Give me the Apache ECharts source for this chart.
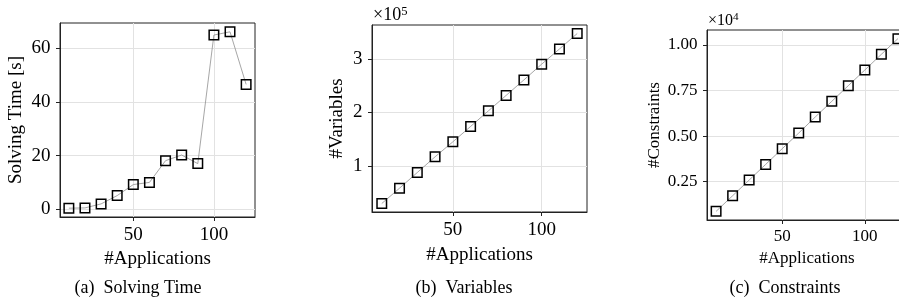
<!DOCTYPE html>
<html>
<head>
<meta charset="utf-8">
<script src="https://cdn.jsdelivr.net/npm/echarts@6/dist/echarts.min.js"></script>
<style>
  html, body { margin: 0; padding: 0; background: #fff; }
  #chart { width: 899px; height: 308px; }
</style>
</head>
<body>
<div id="chart"></div>
<script>
// number of applications (shared x values)
const applications = [10, 20, 30, 40, 50, 60, 70, 80, 90, 100, 110, 120]
// solving time in seconds
const solvingTime = [0.4, 0.5, 2.0, 5.1, 9.2, 10.0, 18.1, 20.2, 17.0, 64.9, 66.1, 46.5]
// number of variables
const variables = [29400, 58100, 87500, 116900, 145000, 173800, 203000, 232000, 261000, 290600, 319000, 348000]
// number of constraints
const constraints = [872, 1730, 2590, 3450, 4310, 5170, 6050, 6910, 7770, 8630, 9490, 10350]

const xTicks = [50, 100]
const timeTicks = [0, 20, 40, 60]
const varTicks = [100000, 200000, 300000]
const consTicks = [2500, 5000, 7500, 10000]

const FONT = "Liberation Serif"
const chart = echarts.init(document.getElementById("chart"), null, { renderer: "canvas" })

// matplotlib-style 5% padding around the data
const padMin = (v) => v.min - 0.05 * (v.max - v.min)
const padMax = (v) => v.max + 0.05 * (v.max - v.min)

// axes sit on the frame edges, not on zero
const axisLine = { show: true, onZero: false, lineStyle: { color: "#222", width: 1 } }

function xAxis(grid, size, nameGap) {
  return {
    type: "value", gridIndex: grid, min: 4.5, max: 125.5,
    name: "#Applications", nameLocation: "middle", nameGap: nameGap,
    nameTextStyle: { fontFamily: FONT, fontSize: size, color: "#000" },
    axisLine: axisLine,
    axisTick: { show: true, length: 4, customValues: xTicks, lineStyle: { color: "#222", width: 1 } },
    axisLabel: { customValues: xTicks, fontFamily: FONT, fontSize: size, color: "#000", margin: 8.5 },
    splitLine: { show: true, lineStyle: { color: "#e2e2e2", width: 1 } }
  }
}

function yAxis(grid, size, ticks, fmt, name, nameGap) {
  return {
    type: "value", gridIndex: grid, min: padMin, max: padMax,
    name: name, nameLocation: "middle", nameGap: nameGap,
    nameTextStyle: { fontFamily: FONT, fontSize: size, color: "#000" },
    axisLine: axisLine,
    axisTick: { show: true, length: 4, customValues: ticks, lineStyle: { color: "#222", width: 1 } },
    axisLabel: { customValues: ticks, formatter: fmt, fontFamily: FONT, fontSize: size, color: "#000", margin: 9.5 },
    splitLine: { show: true, lineStyle: { color: "#e2e2e2", width: 1 } }
  }
}

function series(i, values) {
  return {
    type: "line", xAxisIndex: i, yAxisIndex: i,
    data: applications.map((a, k) => [a, values[k]]),
    symbol: "rect", symbolSize: 9.5,
    lineStyle: { color: "#8f8f8f", width: 0.8 },
    itemStyle: { color: "rgba(255,255,255,0)", borderColor: "#000", borderWidth: 1.5 },
    emphasis: { disabled: true },
    animation: false
  }
}

function scaleLabel(left, top, exp, size) {
  return {
    type: "text", left: left, top: top,
    style: {
      text: "×10{s|" + exp + "}", fontFamily: FONT, fontSize: size, fill: "#000",
      rich: { s: { fontFamily: FONT, fontSize: size * 0.7, verticalAlign: "top", padding: [0, 0, 7, 0] } }
    }
  }
}

function caption(text, x, size) {
  return {
    text: text, left: x, top: 274, textAlign: "center",
    textStyle: { fontFamily: FONT, fontSize: size, fontWeight: "normal", color: "#000" }
  }
}

const frame = { show: true, borderColor: "#222", borderWidth: 1, backgroundColor: "transparent", outerBoundsMode: "none", containLabel: false }

chart.setOption({
  backgroundColor: "#fff",
  animation: false,
  title: [
    caption("(a)\u2002Solving Time", 133, 18),
    caption("(b)\u2002Variables", 459, 18),
    caption("(c)\u2002Constraints", 780, 18)
  ],
  grid: [
    Object.assign({ left: 60, top: 23, width: 195, height: 194 }, frame),
    Object.assign({ left: 372, top: 25, width: 215, height: 187 }, frame),
    Object.assign({ left: 707, top: 30, width: 200, height: 190 }, frame)
  ],
  xAxis: [xAxis(0, 19, 31.5), xAxis(1, 19, 33.5), xAxis(2, 17, 28.5)],
  yAxis: [
    yAxis(0, 19, timeTicks, (v) => String(v), "Solving Time [s]", 34),
    yAxis(1, 19, varTicks, (v) => String(Math.round(v / 1e5)), "#Variables", 25.5),
    yAxis(2, 17, consTicks, (v) => (v / 1e4).toFixed(2), "#Constraints", 44)
  ],
  graphic: [
    scaleLabel(373, 5, 5, 18),
    scaleLabel(708, 12, 4, 16)
  ],
  series: [series(0, solvingTime), series(1, variables), series(2, constraints)]
})
</script>
</body>
</html>
